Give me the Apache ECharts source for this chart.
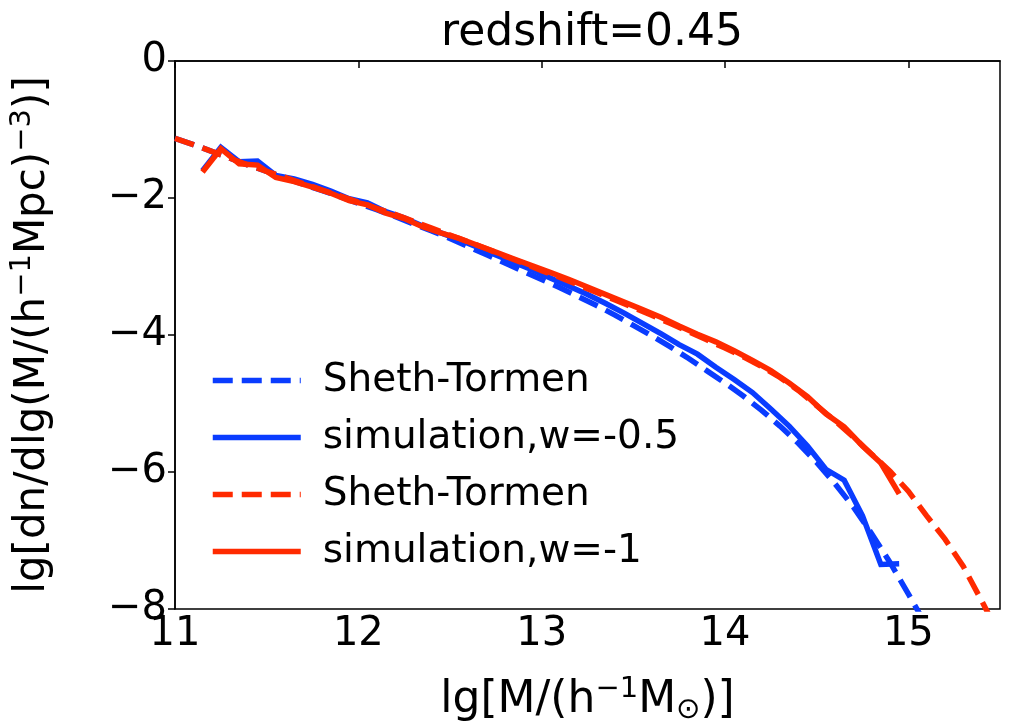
<!DOCTYPE html>
<html>
<head>
<meta charset="utf-8">
<script src="https://cdn.jsdelivr.net/npm/echarts@6/dist/echarts.min.js"></script>
<style>
  html, body { margin: 0; padding: 0; background: #fff; }
  #chart { width: 1012px; height: 725px; }
</style>
</head>
<body>
<div id="chart"></div>
<script>
// ---- data ----
const titleText = 'redshift=0.45';
const xTickValues = [11, 12, 13, 14, 15];
const yTickValues = [-8, -6, -4, -2, 0];

const stRedX = [11.0,11.1,11.2,11.3,11.4,11.5,11.6,11.7,11.8,11.9,12.0,12.1,12.2,12.3,12.4,12.5,12.6,12.7,12.8,12.9,13.0,13.1,13.2,13.3,13.4,13.5,13.6,13.7,13.8,13.9,14.0,14.1,14.2,14.3,14.4,14.5,14.6,14.7,14.8,14.9,15.0,15.1,15.2,15.3,15.4,15.5];
const stRedY = [-1.13,-1.22,-1.32,-1.42,-1.52,-1.61,-1.70,-1.79,-1.88,-1.97,-2.06,-2.15,-2.24,-2.34,-2.44,-2.54,-2.64,-2.74,-2.85,-2.95,-3.06,-3.16,-3.27,-3.38,-3.49,-3.60,-3.71,-3.83,-3.95,-4.07,-4.19,-4.32,-4.46,-4.62,-4.81,-5.03,-5.25,-5.49,-5.74,-5.99,-6.28,-6.64,-6.98,-7.38,-7.88,-8.40];

const stBlueX = [11.0,11.1,11.2,11.3,11.4,11.5,11.6,11.7,11.8,11.9,12.0,12.1,12.2,12.3,12.4,12.5,12.6,12.7,12.8,12.9,13.0,13.1,13.2,13.3,13.4,13.5,13.6,13.7,13.8,13.9,14.0,14.1,14.2,14.3,14.4,14.5,14.6,14.7,14.8,14.9,15.0,15.1];
const stBlueY = [-1.13,-1.22,-1.32,-1.42,-1.52,-1.61,-1.71,-1.80,-1.89,-1.98,-2.08,-2.17,-2.27,-2.38,-2.48,-2.59,-2.71,-2.83,-2.95,-3.07,-3.19,-3.31,-3.44,-3.57,-3.71,-3.86,-4.01,-4.17,-4.34,-4.52,-4.70,-4.89,-5.10,-5.33,-5.58,-5.86,-6.17,-6.51,-6.90,-7.32,-7.78,-8.25];

const simX = [11.15,11.25,11.35,11.45,11.55,11.65,11.75,11.85,11.95,12.05,12.15,12.25,12.35,12.45,12.55,12.65,12.75,12.85,12.95,13.05,13.15,13.25,13.35,13.45,13.55,13.65,13.75,13.85,13.95,14.05,14.15,14.25,14.35,14.45,14.55,14.65,14.75,14.85,14.95];
const simBlueY = [-1.60,-1.26,-1.47,-1.46,-1.67,-1.72,-1.80,-1.90,-2.01,-2.07,-2.20,-2.29,-2.41,-2.51,-2.61,-2.72,-2.83,-2.94,-3.05,-3.17,-3.29,-3.41,-3.54,-3.68,-3.83,-3.98,-4.14,-4.28,-4.47,-4.65,-4.84,-5.08,-5.33,-5.62,-5.96,-6.12,-6.64,-7.35,-7.34];
const simRedY = [-1.62,-1.28,-1.50,-1.52,-1.70,-1.76,-1.84,-1.93,-2.04,-2.10,-2.22,-2.30,-2.42,-2.51,-2.59,-2.69,-2.79,-2.89,-2.99,-3.09,-3.19,-3.30,-3.41,-3.52,-3.63,-3.74,-3.87,-3.99,-4.10,-4.23,-4.37,-4.52,-4.70,-4.90,-5.15,-5.34,-5.62,-5.87,-6.32];

const legendLabels = {
  st1: 'Sheth-Tormen',
  sim1: 'simulation,w=-0.5',
  st2: 'Sheth-Tormen',
  sim2: 'simulation,w=-1'
};

// ---- chart ----
const BLUE = '#0a3cff';
const RED = '#ff2a00';
const FONT = 'DejaVu Sans';
const LW = 5.5;
const zip = (xs, ys) => xs.map((x, i) => [x, ys[i]]);
const minus = v => (v < 0 ? '\u2212' + Math.abs(v) : String(v));

const chart = echarts.init(document.getElementById('chart'), null, { renderer: 'canvas' });

function lineSeries(id, xs, ys, color, dashed) {
  return {
    name: id,
    type: 'line',
    data: zip(xs, ys),
    symbol: 'none',
    clip: true,
    animation: false,
    lineStyle: { color: color, width: LW, type: dashed ? [20, 9] : 'solid', cap: 'butt', join: 'miter' },
    itemStyle: { color: color, opacity: 0 }
  };
}

const supStyle = { fontFamily: FONT, fontSize: 29, color: '#000', padding: [0, 0, 22, 0] };

chart.setOption({
  animation: false,
  backgroundColor: '#fff',
  title: {
    text: titleText,
    left: 587, top: 7, textAlign: 'center',
    textStyle: { fontFamily: FONT, fontSize: 44, fontWeight: 'normal', color: '#000' }
  },
  grid: {
    left: 175, right: 12, top: 61, bottom: 116,
    containLabel: false, outerBoundsMode: 'none',
    show: true, borderColor: '#000', borderWidth: 1.5, backgroundColor: 'transparent'
  },
  legend: {
    orient: 'vertical',
    left: 205, top: 356,
    itemWidth: 88, itemHeight: 20, itemGap: 18,
    data: ['st1', 'sim1', 'st2', 'sim2'],
    formatter: n => legendLabels[n],
    itemStyle: { opacity: 0 },
    lineStyle: { width: LW },
    textStyle: { fontFamily: FONT, fontSize: 39, color: '#000', padding: [0, 0, 0, 17] },
    selectedMode: false
  },
  xAxis: {
    type: 'value', min: 11, max: 15.5, interval: 1,
    name: 'lg[M/(h{sup|\u22121}M{s|\u2299})]',
    nameLocation: 'middle', nameGap: 66,
    nameTextStyle: {
      fontFamily: FONT, fontSize: 44, color: '#000',
      rich: {
        sup: supStyle,
        s: { fontFamily: FONT, fontSize: 29, color: '#000', padding: [20, 0, 0, 0] }
      }
    },
    splitLine: { show: false },
    axisLine: { show: true, lineStyle: { color: '#000', width: 1.5 } },
    axisTick: { show: true, inside: false, length: 7, lineStyle: { color: '#000', width: 1.5 }, customValues: xTickValues },
    axisLabel: { fontFamily: FONT, fontSize: 40, color: '#000', margin: 6, customValues: xTickValues, formatter: v => String(v) }
  },
  yAxis: {
    type: 'value', min: -8, max: 0, interval: 2,
    name: 'lg[dn/dlg(M/(h{sup|\u22121}Mpc){sup|\u22123})]',
    nameLocation: 'middle', nameGap: 116, nameRotate: 90,
    nameTextStyle: { fontFamily: FONT, fontSize: 42, color: '#000', rich: { sup: supStyle } },
    splitLine: { show: false },
    axisLine: { show: true, lineStyle: { color: '#000', width: 1.5 } },
    axisTick: { show: true, inside: false, length: 7, lineStyle: { color: '#000', width: 1.5 }, customValues: yTickValues },
    axisLabel: { fontFamily: FONT, fontSize: 40, color: '#000', margin: 8, customValues: yTickValues, formatter: minus }
  },
  series: [
    lineSeries('st1', stBlueX, stBlueY, BLUE, true),
    lineSeries('sim1', simX, simBlueY, BLUE, false),
    lineSeries('st2', stRedX, stRedY, RED, true),
    lineSeries('sim2', simX, simRedY, RED, false)
  ]
});
</script>
</body>
</html>
